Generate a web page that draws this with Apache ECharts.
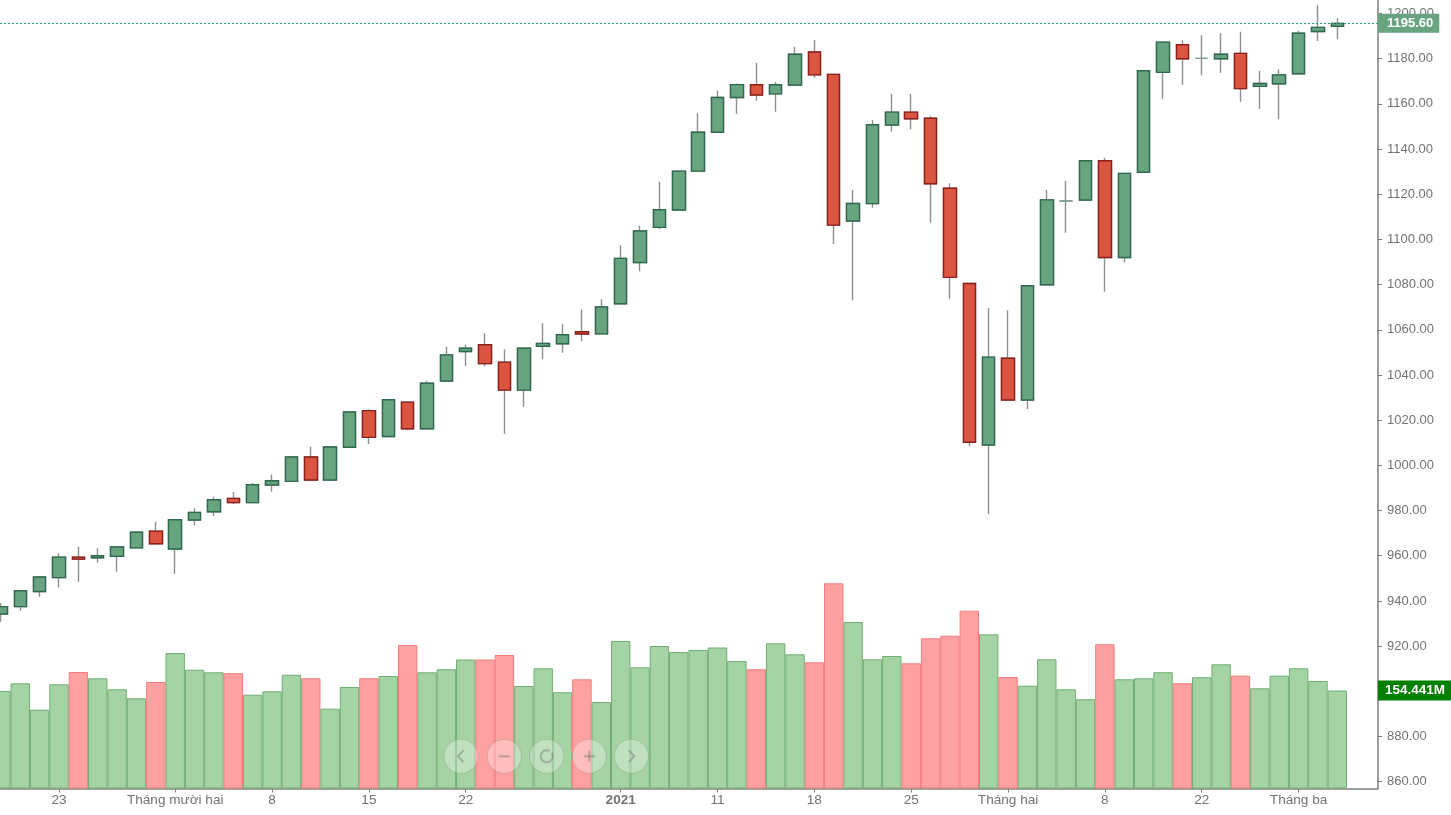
<!DOCTYPE html>
<html>
<head>
<meta charset="utf-8">
<title>Candlestick</title>
<script src="https://cdn.jsdelivr.net/npm/echarts@6/dist/echarts.min.js"></script>
<style>
    html, body { margin: 0; padding: 0; background: #fff; }
    #main { width: 1451px; height: 815px; }
</style>
</head>
<body>
<div id="main"></div>
<script>
var opens = [934.2, 937.5, 944.2, 950.3, 959.4, 959.1, 959.7, 963.5, 970.9, 963,
    975.8, 979.5, 985.4, 983.5, 991.3, 992.9, 1003.7, 993.5, 1008, 1024.2,
    1012.8, 1028, 1016.2, 1037.3, 1050.4, 1053.4, 1045.7, 1033.3, 1052.7, 1053.8,
    1059.1, 1058.2, 1071.5, 1089.8, 1105.3, 1113, 1130.2, 1147.4, 1162.8, 1168.4,
    1164.4, 1168.3, 1182.9, 1173, 1108.1, 1115.8, 1150.6, 1156.3, 1153.6, 1122.6,
    1080.5, 1009, 1047.4, 1028.9, 1079.9, 1117, 1117.4, 1134.8, 1092, 1129.7,
    1173.9, 1186.1, 1180.1, 1179.9, 1182.3, 1167.7, 1168.9, 1173.3, 1192, 1194.3];
var closes = [937.5, 944.5, 950.6, 959.4, 958.5, 960, 963.9, 970.4, 965.3, 975.9,
    979.2, 984.8, 983.5, 991.4, 993.2, 1003.7, 993.5, 1008.1, 1023.6, 1012.4,
    1029, 1016.2, 1036.3, 1048.9, 1051.8, 1045, 1033.3, 1051.8, 1054, 1057.8,
    1058.1, 1070.1, 1091.6, 1103.7, 1113.1, 1130.2, 1147.4, 1162.8, 1168.5, 1163.9,
    1168.4, 1181.9, 1172.8, 1106.3, 1115.9, 1150.7, 1156.3, 1153.4, 1124.6, 1083.2,
    1010.2, 1047.9, 1028.9, 1079.5, 1117.5, 1117, 1134.8, 1092, 1129.2, 1174.6,
    1187.3, 1179.9, 1180.1, 1181.9, 1166.7, 1169, 1172.8, 1191.2, 1193.8, 1195.6];
var lows = [930.8, 935.7, 941.9, 945.9, 948.5, 956.9, 952.9, 963.5, 965.3, 951.9,
    973.5, 977.7, 982.9, 983.5, 988.3, 992.9, 993.5, 993.5, 1008, 1009.4,
    1012.8, 1015.5, 1016.2, 1037.3, 1043.9, 1043.9, 1013.9, 1025.9, 1047, 1049.8,
    1054.9, 1058.2, 1071.5, 1085.9, 1104.6, 1113, 1130.2, 1147.4, 1155.5, 1161.4,
    1156.5, 1168.3, 1171.5, 1097.9, 1073.1, 1114, 1147.6, 1148.7, 1107.4, 1073.6,
    1008.4, 978.5, 1028.9, 1024.9, 1079.9, 1102.9, 1117.4, 1076.8, 1089.8, 1129.7,
    1162.1, 1168.3, 1172.7, 1173.7, 1160.9, 1157.7, 1153.2, 1173.3, 1187.8, 1188.6];
var highs = [939.1, 944.8, 950.6, 961.1, 964, 963.3, 963.9, 970.4, 975, 975.9,
    981, 986.1, 988.2, 992.2, 996, 1004.1, 1008.2, 1008.1, 1023.6, 1024.8,
    1029, 1028, 1037.4, 1052.5, 1053.5, 1058.5, 1051.3, 1051.8, 1063, 1062.4,
    1069, 1073.5, 1097.4, 1106, 1125.5, 1130.2, 1155.8, 1165.9, 1169, 1178.2,
    1169.7, 1185.2, 1188.2, 1173, 1121.7, 1152.8, 1164.3, 1164.3, 1154.7, 1124.8,
    1080.5, 1069.6, 1068.6, 1079.5, 1121.8, 1125.9, 1134.8, 1136.1, 1129.2, 1174.6,
    1187.3, 1188.1, 1190.3, 1191.2, 1191.9, 1174.6, 1175.2, 1192.3, 1203.7, 1197.9];
// volume in millions
var volumes = [153.7, 165.8, 124.2, 164.2, 183.6, 173.7, 156.3, 142.2, 167.8, 213.5,
    187.2, 183.1, 181.6, 147.8, 153.2, 179.3, 173.7, 125.8, 160, 173.7,
    177.3, 226.2, 183.1, 187.9, 203.3, 203.3, 210.4, 161.5, 189.4, 151.6,
    172.1, 136.3, 232.5, 191, 224.6, 215.1, 218.3, 222.2, 200.9, 187.9,
    228.8, 211.5, 198.9, 323.4, 262.4, 203.6, 208.8, 197.3, 236.7, 240.8,
    280.2, 243, 175.7, 162, 203.6, 156.3, 140.6, 227.3, 172.1, 173.7,
    183.3, 165.8, 175.3, 195.7, 177.8, 157.9, 177.8, 189.4, 169.4, 154.441];
var priceTicks = [860, 880, 900, 920, 940, 960, 980, 1000, 1020, 1040, 1060, 1080, 1100,
    1120, 1140, 1160, 1180, 1200];
var tickBars = [3, 9, 14, 19, 24, 32, 37, 42, 47, 52, 57, 62, 67];
var tickLabels = ['23', 'Tháng mười hai', '8', '15', '22', '2021', '11', '18', '25',
    'Tháng hai', '8', '22', 'Tháng ba'];
var lastPrice = 1195.6;
var lastVolume = 154.441;

var textColor = '#737375';
var fontName = '"Liberation Sans", Arial, sans-serif';

function wickData() {
    return opens.map(function (o, i) {
        return [i, o, closes[i], lows[i], highs[i]];
    });
}

// second layer: bodies only, so the wick can stay grey under a dark border
function bodyData() {
    return opens.map(function (o, i) {
        return [i, o, closes[i], Math.min(o, closes[i]), Math.max(o, closes[i])];
    });
}

function volumeData() {
    return volumes.map(function (v, i) {
        var down = closes[i] < opens[i];
        return {
            value: [i, v],
            itemStyle: {
                color: down ? '#ffa1a1' : '#a5d3a3',
                borderColor: down ? '#f57c7c' : '#6fae72'
            }
        };
    });
}

var glyphStyle = { fill: null, stroke: 'rgba(105,105,105,0.4)', lineWidth: 2 };

function glyph(type, shape) {
    return { type: type, z: 101, shape: shape, style: glyphStyle };
}

function zoomButton(cx, glyphs) {
    return {
        type: 'group',
        x: cx,
        y: 756.3,
        children: [{
            type: 'circle',
            z: 100,
            shape: { cx: 0, cy: 0, r: 17 },
            style: { fill: 'rgba(255,255,255,0.3)', stroke: 'rgba(120,120,120,0.25)', lineWidth: 1 }
        }].concat(glyphs)
    };
}

var myChart = echarts.init(document.getElementById('main'));
var option = {
    animation: false,
    backgroundColor: '#fff',
    textStyle: { fontFamily: fontName },
    grid: { left: 0, right: 73, top: 0, bottom: 26.5 },
    xAxis: {
        type: 'value',
        min: -0.046,
        max: 71.1,
        splitLine: { show: false },
        axisLine: { show: true, onZero: false, lineStyle: { color: '#7f7f7f', width: 1.5 } },
        axisTick: { show: true, length: 4, customValues: tickBars, lineStyle: { color: '#7f7f7f' } },
        axisLabel: {
            customValues: tickBars,
            color: textColor,
            fontSize: 13.6,
            margin: 5,
            formatter: function (value) {
                var text = tickLabels[tickBars.indexOf(value)];
                return text === '2021' ? '{b|2021}' : text;
            },
            rich: { b: { fontWeight: 'bold', color: textColor, fontSize: 13.6 } }
        }
    },
    yAxis: [{
        type: 'value',
        position: 'right',
        min: 857,
        max: 1205.93,
        splitLine: { show: false },
        axisLine: { show: true, onZero: false, lineStyle: { color: '#7f7f7f', width: 1.5 } },
        axisTick: { show: true, length: 4, customValues: priceTicks, lineStyle: { color: '#7f7f7f' } },
        axisLabel: {
            customValues: priceTicks,
            color: textColor,
            fontSize: 13,
            margin: 9,
            padding: [0, 0, 1, 0],
            formatter: function (value) {
                return value.toFixed(2);
            }
        }
    }, {
        type: 'value',
        show: false,
        min: 0,
        max: 1242.7,
        splitLine: { show: false }
    }],
    series: [{
        name: 'Volume',
        type: 'bar',
        yAxisIndex: 1,
        barWidth: 19.4,
        itemStyle: { borderWidth: 1 },
        data: volumeData(),
        markLine: {
            silent: true,
            symbol: 'none',
            z: 50,
            lineStyle: { color: 'transparent', width: 1 },
            label: {
                position: 'end',
                distance: 0,
                formatter: lastVolume.toFixed(3) + 'M',
                color: '#fff',
                fontWeight: 'bold',
                fontSize: 13.5,
                backgroundColor: '#008000',
                padding: [3, 6, 3, 7]
            },
            data: [{ yAxis: lastVolume }]
        }
    }, {
        name: 'Wick',
        type: 'candlestick',
        barWidth: 13,
        itemStyle: {
            color: '#8f8f8f',
            color0: '#8f8f8f',
            borderColor: '#8f8f8f',
            borderColor0: '#8f8f8f',
            borderColorDoji: '#8f8f8f',
            borderWidth: 1.4
        },
        data: wickData()
    }, {
        name: 'Price',
        type: 'candlestick',
        barWidth: 13,
        itemStyle: {
            color: '#69a480',
            color0: '#dc5540',
            borderColor: '#2f6a4f',
            borderColor0: '#8b1f1a',
            borderColorDoji: '#7fa08f',
            borderWidth: 1.4
        },
        data: bodyData(),
        markLine: {
            silent: true,
            symbol: 'none',
            z: 50,
            lineStyle: { color: '#2e9e78', type: [2, 2], width: 1 },
            label: {
                position: 'end',
                distance: 0,
                formatter: lastPrice.toFixed(2),
                color: '#fff',
                fontWeight: 'bold',
                fontSize: 13,
                backgroundColor: '#69a480',
                padding: [3, 6, 3, 9]
            },
            data: [{ yAxis: lastPrice }]
        }
    }],
    graphic: [
        zoomButton(461, [glyph('polyline', { points: [[2.5, -6], [-3, 0], [2.5, 6]] })]),
        zoomButton(504.3, [glyph('line', { x1: -5.5, y1: 0, x2: 5.5, y2: 0 })]),
        zoomButton(546.7, [glyph('arc', { cx: 0, cy: 0, r: 6, startAngle: -0.6, endAngle: 5.2 })]),
        zoomButton(589.3, [
            glyph('line', { x1: -5.5, y1: 0, x2: 5.5, y2: 0 }),
            glyph('line', { x1: 0, y1: -5.5, x2: 0, y2: 5.5 })
        ]),
        zoomButton(631.3, [glyph('polyline', { points: [[-2.5, -6], [3, 0], [-2.5, 6]] })])
    ]
};
myChart.setOption(option);
</script>
</body>
</html>
